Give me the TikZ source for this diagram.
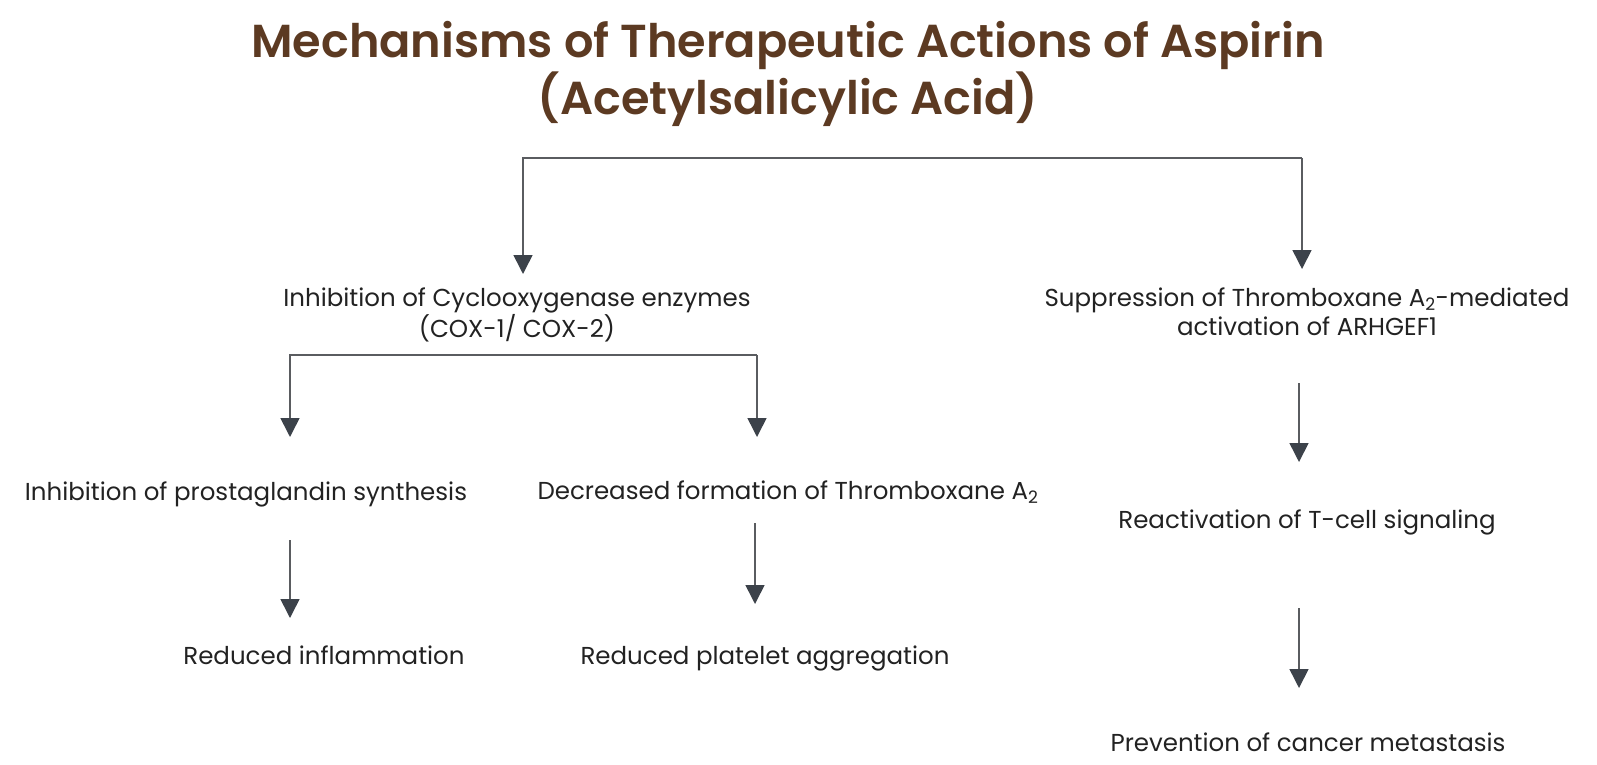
\documentclass[tikz,border=0pt]{standalone}
\usepackage{fontspec}
\setmainfont{Poppins}[BoldFont={Poppins SemiBold}]
\usetikzlibrary{arrows.meta}
\definecolor{titlebrown}{HTML}{5C3A22}
\definecolor{txt}{HTML}{222222}
\definecolor{linegray}{HTML}{5A5C60}
\definecolor{headgray}{HTML}{3C424A}
\begin{document}
\begin{tikzpicture}[x=1pt,y=-1pt,
  lbl/.style={font=\fontsize{24.5}{29}\selectfont, text=txt, align=center, inner sep=0pt},
  ttl/.style={font=\bfseries\fontsize{46.2}{57}\selectfont, text=titlebrown, align=center, inner sep=0pt},
  conn/.style={draw=linegray, line width=1.6pt, -{Triangle[width=19pt,length=19pt,fill=headgray,color=headgray]}}]
\useasboundingbox (0,0) rectangle (1597,765);
\node[ttl] (title) at (788,74) {Mechanisms of Therapeutic Actions of Aspirin\\(Acetylsalicylic Acid)};
\coordinate (tl) at (523,158);
\coordinate (tr) at (1302,158);
\coordinate (cl) at (290,355);
\coordinate (cr) at (757,355);
\node[lbl] (cox) at (517,315) {Inhibition of Cyclooxygenase enzymes\\(COX-1/ COX-2)};
\node[lbl] (sup) at (1307,312) {Suppression of Thromboxane A\textsubscript{2}-mediated\\activation of ARHGEF1};
\node[lbl] (pg) at (246,494) {Inhibition of prostaglandin synthesis};
\node[lbl] (dec) at (788,492) {Decreased formation of Thromboxane A\textsubscript{2}};
\node[lbl] (inf) at (324,655) {Reduced inflammation};
\node[lbl] (plt) at (765,658) {Reduced platelet aggregation};
\node[lbl] (tcell) at (1307,522) {Reactivation of T-cell signaling};
\node[lbl] (met) at (1308,742) {Prevention of cancer metastasis};
\coordinate (a1s) at (290,540); \coordinate (a1e) at (290,618);
\coordinate (a2s) at (755,523); \coordinate (a2e) at (755,604);
\coordinate (a3s) at (1299,383); \coordinate (a3e) at (1299,462);
\coordinate (a4s) at (1299,608); \coordinate (a4e) at (1299,688);
\draw[conn] (tr) -- (1302,269);
\draw[conn] (tr) -- (tl) -- (523,274);
\draw[conn] (cr) -- (757,437);
\draw[conn] (cr) -- (cl) -- (290,437);
\draw[conn] (a1s) -- (a1e);
\draw[conn] (a2s) -- (a2e);
\draw[conn] (a3s) -- (a3e);
\draw[conn] (a4s) -- (a4e);
\end{tikzpicture}
\end{document}
